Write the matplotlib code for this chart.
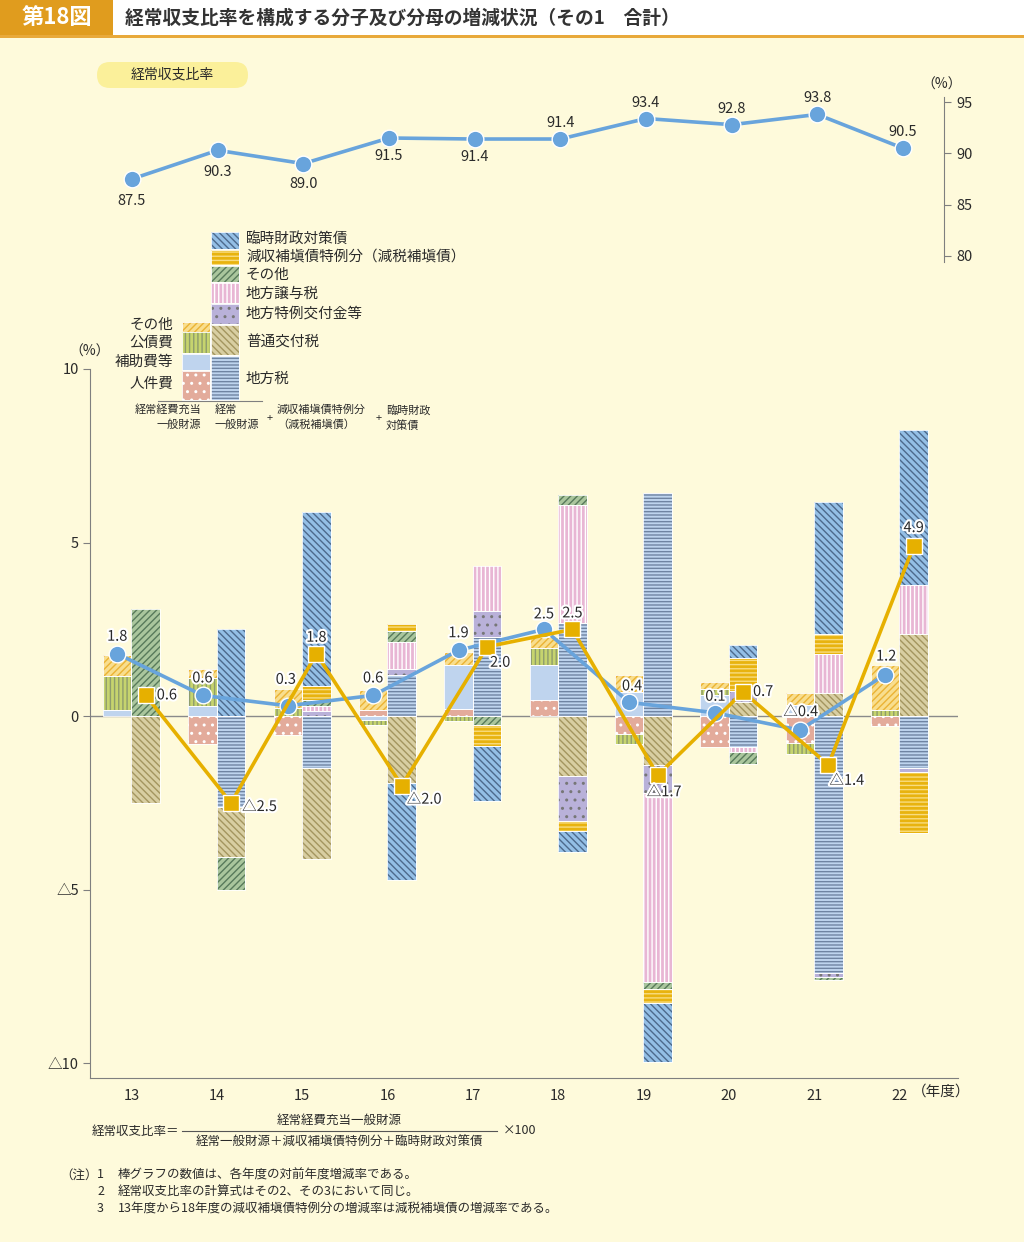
import matplotlib as mpl

mpl.use('agg')
import matplotlib.pyplot as plt
import matplotlib.patheffects as pe
from matplotlib.patches import Rectangle, FancyBboxPatch
import numpy as np

plt.rcParams['font.family'] = ['Noto Sans CJK JP', 'DejaVu Sans']
plt.rcParams['hatch.linewidth'] = 1.0

# --- data -------------------------------------------------------------
years = ['13', '14', '15', '16', '17', '18', '19', '20', '21', '22']
ratio = [87.5, 90.3, 89.0, 91.5, 91.4, 91.4, 93.4, 92.8, 93.8, 90.5]
num_rate = [1.8, 0.6, 0.3, 0.6, 1.9, 2.5, 0.4, 0.1, -0.4, 1.2]
den_rate = [0.6, -2.5, 1.8, -2.0, 2.0, 2.5, -1.7, 0.7, -1.4, 4.9]

# numerator (経常経費充当一般財源) contributions
jinkenhi = [0.0, -0.8, -0.55, 0.17, 0.22, 0.48, -0.5, -0.88, -0.78, -0.29]
hojohi = [0.17, 0.3, 0.0, -0.12, 1.25, 0.99, 0.7, 0.6, 0.32, 0.0]
kosaihi = [1.0, 0.8, 0.25, -0.14, -0.14, 0.5, -0.29, 0.17, -0.3, 0.17]
sonota_num = [0.58, 0.27, 0.52, 0.58, 0.38, 0.3, 0.48, 0.22, 0.35, 1.3]

# denominator contributions
chihozei = [0.0, -2.62, -1.5, 1.18, 2.27, 2.68, 6.42, -0.9, -7.4, -1.5]
kofuzei = [-2.5, -1.44, -2.6, -1.93, 0.0, -1.73, -1.41, 0.4, 0.67, 2.38]
tokurei = [0.0, 0.0, 0.15, 0.17, 0.77, -1.29, -0.81, 0.33, -0.1, -0.1]
joyozei = [0.0, 0.0, 0.15, 0.8, 1.3, 3.4, -5.44, -0.12, 1.13, 1.39]
sonota_den = [3.08, -0.95, 0.17, 0.29, -0.26, 0.29, -0.2, -0.35, -0.1, 0.0]
genshu = [0.0, 0.0, 0.4, 0.22, -0.6, -0.29, -0.4, 0.95, 0.58, -1.77]
rinji = [0.0, 2.5, 5.0, -2.8, -1.58, -0.6, -1.7, 0.37, 3.78, 4.48]

# --- styles -----------------------------------------------------------
BG = '#FEFADB'
BLUE = '#68A4DC'
GOLD = '#E6B000'
TXT = '#2A2A2A'
GRAY = '#7F7F7F'
W, H = 1024, 1242
BAR_W = 0.334

num_parts = [
  (jinkenhi, '人件費', '#E3AB9B', '#FFFFFF', '..'),
  (hojohi, '補助費等', '#BFD4EE', '#BFD4EE', ''),
  (kosaihi, '公債費', '#C6D46E', '#8E9C6C', '||||'),
  (sonota_num, 'その他', '#F8DE8E', '#EBB334', '/////'),
]
den_parts = [
  (chihozei, '地方税', '#BED4EE', '#6F84A2', '-----'),
  (kofuzei, '普通交付税', '#D8CEA2', '#A3955F', '\\' * 5),
  (tokurei, '地方特例交付金等', '#B9B1D9', '#777777', '..'),
  (joyozei, '地方譲与税', '#E8B6D4', '#FFFFFF', '||||'),
  (sonota_den, 'その他', '#AAC69D', '#587A5B', '/////'),
  (genshu, '減収補塡債特例分（減税補塡債）', '#E8B30F', '#F8DC80', '----'),
  (rinji, '臨時財政対策債', '#94BFE6', '#4D6A8C', '\\' * 5),
]

# label offsets in pixels
num_off = [(0, 17), (0, 17), (-2, 26), (0, 17), (0, 17), (0, 15), (3, 16), (1, 16), (1, 18), (1, 18)]
den_off = [(11, 0), (11, -4), (0, 16), (5, -14), (3, -16), (0, 16), (-11, -17), (10, 0), (1, -16), (0, 18)]
den_ha = ['left', 'left', 'center', 'left', 'left', 'center', 'left', 'left', 'left', 'center']
ratio_off = [-22, -22, -20, -18, -18, 16, 16, 16, 16, 16]

stroke = [pe.withStroke(linewidth=3, foreground='white')]


def fmt(v):
  return ('△%.1f' % abs(v)) if v < 0 else '%.1f' % v


def stack_bars(ax, xs, parts):
  pos = np.zeros(len(xs))
  neg = np.zeros(len(xs))
  for vals, _, face, hc, hatch in parts:
    v = np.array(vals, dtype=float)
    m = v != 0
    bottom = np.where(v >= 0, pos, neg)
    ax.bar(xs[m], v[m], BAR_W, bottom=bottom[m], color=face, edgecolor=hc,
           hatch=hatch, lw=0, zorder=2)
    ax.bar(xs[m], v[m], BAR_W, bottom=bottom[m], fill=False, edgecolor='white',
           lw=0.6, zorder=2.1)
    pos += np.where(v > 0, v, 0)
    neg += np.where(v < 0, v, 0)


fig = plt.figure(figsize=(W / 100, H / 100), dpi=100, facecolor=BG)


def rect(x0, y0, x1, y1):
  return [x0 / W, 1 - y1 / H, (x1 - x0) / W, (y1 - y0) / H]


x = np.arange(len(years))

# --- top chart: 経常収支比率 ---------------------------------------------
ax_top = fig.add_axes(rect(90, 97, 944, 262))
ax_top.patch.set_alpha(0)
ax_top.plot(x, ratio, color=BLUE, lw=2.6, marker='o', ms=12, mfc=BLUE, mec='white',
            mew=1, zorder=3, clip_on=False)
for i, v in enumerate(ratio):
  ax_top.annotate('%.1f' % v, (x[i], v), xytext=(0, ratio_off[i]), textcoords='offset pixels',
                  ha='center', va='center', fontsize=10.5, color=TXT)
ax_top.set_xlim(-0.490, 9.478)
ax_top.set_ylim(79.4, 95.5)
for s in ['left', 'top', 'bottom']:
  ax_top.spines[s].set_visible(False)
ax_top.spines['right'].set_color(GRAY)
ax_top.yaxis.tick_right()
ax_top.set_yticks([80, 85, 90, 95])
ax_top.tick_params(axis='y', direction='out', length=5, color=GRAY, labelsize=10.5,
                   labelcolor=TXT, pad=4)
ax_top.set_xticks([])

# --- bottom chart: contributions --------------------------------------
ax = fig.add_axes(rect(90, 369, 958, 1078))
ax.patch.set_alpha(0)
ax.axhline(0, color='#8A8A8A', lw=1, zorder=1)
stack_bars(ax, x - BAR_W / 2, num_parts)
stack_bars(ax, x + BAR_W / 2, den_parts)

ax.plot(x - BAR_W / 2, num_rate, color=BLUE, lw=2.6, marker='o', ms=12, mfc=BLUE,
        mec='white', mew=1, zorder=3)
ax.plot(x + BAR_W / 2, den_rate, color=GOLD, lw=2.6, marker='s', ms=11, mfc=GOLD,
        mec='white', mew=1, zorder=4)
for i in range(len(years)):
  ax.annotate(fmt(num_rate[i]), (x[i] - BAR_W / 2, num_rate[i]), xytext=num_off[i],
              textcoords='offset pixels', ha='center', va='center', fontsize=10.5,
              color=TXT, path_effects=stroke, zorder=5)
  ax.annotate(fmt(den_rate[i]), (x[i] + BAR_W / 2, den_rate[i]), xytext=den_off[i],
              textcoords='offset pixels', ha=den_ha[i], va='center', fontsize=10.5,
              color=TXT, path_effects=stroke, zorder=5)

ax.set_xlim(-0.486, 9.686)
ax.set_ylim(-10.42, 10)
for s in ['top', 'right']:
  ax.spines[s].set_visible(False)
for s in ['left', 'bottom']:
  ax.spines[s].set_color(GRAY)
ax.set_yticks([-10, -5, 0, 5, 10])
ax.set_yticklabels(['△10', '△5', '0', '5', '10'])
ax.tick_params(axis='y', direction='out', length=5, color=GRAY, labelsize=10.5,
               labelcolor=TXT, pad=3)
ax.set_xticks(x)
ax.set_xticklabels(years)
ax.tick_params(axis='x', length=0, labelsize=10.5, labelcolor=TXT, pad=8)

# --- overlay in pixel coordinates --------------------------------------
ov = fig.add_axes([0, 0, 1, 1])
ov.set_xlim(0, W)
ov.set_ylim(H, 0)
ov.axis('off')
ov.patch.set_alpha(0)

# header
ov.add_patch(Rectangle((0, 0), W, 36, color='white', lw=0))
ov.add_patch(Rectangle((0, 0), 113, 36, color='#E09C1E', lw=0))
ov.add_patch(Rectangle((0, 35), W, 2.5, color='#E8A93A', lw=0))
ov.text(57, 18, '第18図', ha='center', va='center', fontsize=16, color='white',
        fontweight='bold')
ov.text(125, 18, '経常収支比率を構成する分子及び分母の増減状況（その1　合計）', ha='left',
        va='center', fontsize=13.5, color='#333333', fontweight='bold')

# pill
ov.add_patch(FancyBboxPatch((97, 62), 151, 26, boxstyle='round,pad=0,rounding_size=13',
                            fc='#FBF09A', ec='none'))
ov.text(172, 75, '経常収支比率', ha='center', va='center', fontsize=10, color=TXT)
ov.text(942, 85, '（%）', ha='center', va='center', fontsize=10, color=TXT)
ov.text(90, 352, '（%）', ha='center', va='center', fontsize=10, color=TXT)
ov.text(912, 1092, '（年度）', ha='left', va='center', fontsize=10.5, color=TXT)


def swatch(x0, y0, x1, y1, part):
  _, _, face, hc, hatch = part
  ov.add_patch(Rectangle((x0, y0), x1 - x0, y1 - y0, facecolor=face, edgecolor=hc,
                         hatch=hatch, lw=0))
  ov.add_patch(Rectangle((x0, y0), x1 - x0, y1 - y0, fill=False, edgecolor='white', lw=0.6))


# legend: denominator column
den_rows = [(6, 232, 249, 240), (5, 250, 265, 257), (4, 266, 282, 275), (3, 283, 303, 294),
            (2, 304, 324, 314), (1, 325, 355, 342), (0, 356, 400, 379)]
for idx, y0, y1, ly in den_rows:
  swatch(211, y0, 239, y1, den_parts[idx])
  ov.text(246, ly, den_parts[idx][1], ha='left', va='center', fontsize=10.5, color=TXT)

num_rows = [(3, 322, 332, 325), (2, 332, 353, 343), (1, 354, 370, 362), (0, 371, 400, 384)]
for idx, y0, y1, ly in num_rows:
  swatch(182, y0, 210, y1, num_parts[idx])
  ov.text(173, ly, num_parts[idx][1], ha='right', va='center', fontsize=10.5, color=TXT)

ov.plot([158, 262], [400.5, 400.5], color=GRAY, lw=0.8)
small = dict(fontsize=8, color=TXT, va='center')
ov.text(201, 410, '経常経費充当', ha='right', **small)
ov.text(201, 425, '一般財源', ha='right', **small)
ov.text(215, 410, '経常', ha='left', **small)
ov.text(215, 425, '一般財源', ha='left', **small)
ov.text(270, 418, '+', ha='center', **small)
ov.text(277, 410, '減収補塡債特例分', ha='left', **small)
ov.text(277, 425, '（減税補塡債）', ha='left', **small)
ov.text(379, 418, '+', ha='center', **small)
ov.text(386, 410, '臨時財政', ha='left', **small)
ov.text(386, 425, '対策債', ha='left', **small)

# formula
f9 = dict(fontsize=9, color=TXT, va='center')
ov.text(179, 1131, '経常収支比率＝', ha='right', **f9)
ov.plot([182, 497], [1131, 1131], color='#555555', lw=0.8)
ov.text(339, 1120, '経常経費充当一般財源', ha='center', **f9)
ov.text(339, 1142, '経常一般財源＋減収補塡債特例分＋臨時財政対策債', ha='center', **f9)
ov.text(503, 1131, '×100', ha='left', **f9)

# notes
ov.text(60, 1175, '（注）', ha='left', **f9)
notes = ['棒グラフの数値は、各年度の対前年度増減率である。',
         '経常収支比率の計算式はその2、その3において同じ。',
         '13年度から18年度の減収補塡債特例分の増減率は減税補塡債の増減率である。']
for k, t in enumerate(notes):
  ov.text(97, 1175 + 16.5 * k, str(k + 1), ha='left', **f9)
  ov.text(118, 1175 + 16.5 * k, t, ha='left', **f9)

plt.savefig('out.png', dpi=100, facecolor=BG)
plt.close()
